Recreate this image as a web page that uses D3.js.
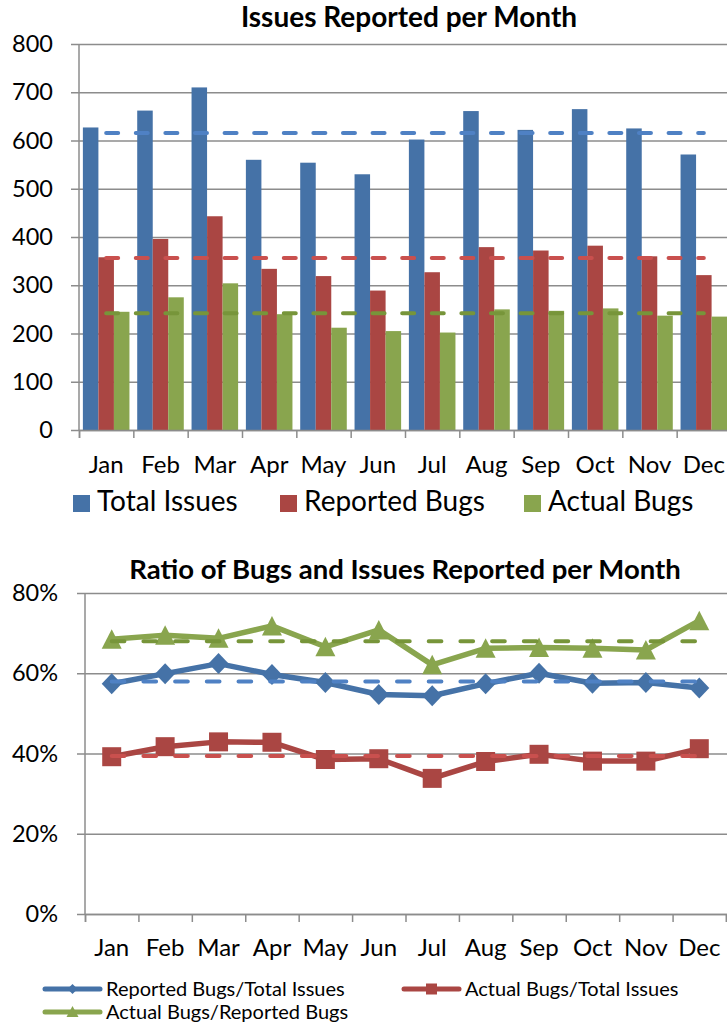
<!DOCTYPE html>
<html>
<head>
<meta charset="utf-8">
<script src="https://cdn.jsdelivr.net/npm/d3@7"></script>
<style>
body { margin: 0; background: #fff; }
text { font-family: Lato, sans-serif; fill: #000; }
</style>
</head>
<body>
<script>
// data
var months = ['Jan','Feb','Mar','Apr','May','Jun','Jul','Aug','Sep','Oct','Nov','Dec'];
var totalIssues  = [627, 662, 710, 560, 554, 530, 602, 661, 622, 665, 625, 571];
var reportedBugs = [358, 396, 443, 334, 319, 289, 327, 379, 372, 382, 360, 321];
var actualBugs   = [245, 275, 304, 240, 212, 205, 202, 250, 247, 252, 237, 235];

var reportedPerTotal  = [57.4, 59.9, 62.4, 59.7, 57.7, 54.7, 54.4, 57.4, 60.0, 57.5, 57.7, 56.3];
var actualPerTotal    = [39.2, 41.7, 42.9, 42.8, 38.5, 38.7, 33.8, 38.0, 39.8, 38.1, 38.1, 41.2];
var actualPerReported = [68.5, 69.5, 68.7, 71.8, 66.6, 70.8, 62.1, 66.2, 66.4, 66.2, 65.8, 73.1];

var countTicks = [0, 100, 200, 300, 400, 500, 600, 700, 800];
var ratioTicks = [0, 20, 40, 60, 80];

var barNames = ['Total Issues', 'Reported Bugs', 'Actual Bugs'];
var ratioNames = ['Reported Bugs/Total Issues', 'Actual Bugs/Total Issues', 'Actual Bugs/Reported Bugs'];

var gridColor = '#8c8c8c';

var svg = d3.select('body').append('svg')
    .attr('width', 727)
    .attr('height', 1025);

// =============== top chart: bars ===============
var barColors  = ['#4572A7', '#AA4643', '#89A54E'];
var avgColors  = ['#4F81C4', '#C9504E', '#77953A'];
var barData = [totalIssues, reportedBugs, actualBugs];

var x = d3.scaleBand().domain(months).range([79, 731]);
var xSub = d3.scaleBand().domain(barNames).range([0, x.bandwidth()]).paddingOuter(0.25);
var xEdge = d3.scaleLinear().domain([0, 12]).range([79, 731]);
var y = d3.scaleLinear().domain([0, 800]).range([430, 44]);

svg.append('text')
    .attr('x', 409).attr('y', 27)
    .attr('text-anchor', 'middle')
    .style('font-size', '28px').style('font-weight', 'bold')
    .text('Issues Reported per Month');

// gridlines
svg.append('g')
    .attr('transform', 'translate(71,0)')
    .call(d3.axisLeft(y).tickValues(countTicks).tickSize(-(731 - 71)).tickFormat(''))
    .call(function(g){
        g.select('.domain').remove();
        g.selectAll('line').attr('stroke', gridColor).attr('stroke-width', 1.5);
    });

// y labels
svg.append('g')
    .attr('transform', 'translate(79,0)')
    .call(d3.axisLeft(y).tickValues(countTicks).tickSize(0).tickPadding(26))
    .call(function(g){
        g.select('.domain').remove();
        g.selectAll('text').style('font-size', '23.5px').attr('fill', '#000');
    });

// bars
barNames.forEach(function(name, i){
    svg.append('g').selectAll('rect')
        .data(barData[i])
        .enter().append('rect')
        .attr('x', function(d, j){ return x(months[j]) + xSub(name); })
        .attr('y', function(d){ return y(d); })
        .attr('width', xSub.bandwidth())
        .attr('height', function(d){ return y(0) - y(d); })
        .attr('fill', barColors[i]);
});

// y axis line
svg.append('line')
    .attr('x1', 79).attr('x2', 79)
    .attr('y1', y(800)).attr('y2', y(0))
    .attr('stroke', gridColor).attr('stroke-width', 1.5);

// x axis ticks at band edges
svg.append('g')
    .attr('transform', 'translate(0,' + y(0) + ')')
    .call(d3.axisBottom(xEdge).ticks(12).tickSize(8).tickFormat(''))
    .call(function(g){
        g.select('.domain').attr('stroke', gridColor).attr('stroke-width', 1.5);
        g.selectAll('line').attr('stroke', gridColor).attr('stroke-width', 1.5);
    });

// x labels
svg.append('g')
    .attr('transform', 'translate(0,' + y(0) + ')')
    .call(d3.axisBottom(x).tickSize(0))
    .call(function(g){
        g.select('.domain').remove();
        g.selectAll('text').attr('y', 43).attr('dy', 0)
            .style('font-size', '24px').attr('fill', '#000');
    });

// average lines (dashed)
var avgLine = d3.line()
    .x(function(d){ return x(d.m) + x.bandwidth() / 2; })
    .y(function(d){ return y(d.v); });

barData.forEach(function(series, i){
    var avg = d3.mean(series);
    svg.append('path')
        .attr('d', avgLine(months.map(function(m){ return {m: m, v: avg}; })))
        .attr('fill', 'none')
        .attr('stroke', avgColors[i])
        .attr('stroke-width', 4)
        .attr('stroke-linecap', 'round')
        .attr('stroke-dasharray', '12,17.6');
});

// legend
var legendX = [73, 280, 524];
barNames.forEach(function(name, i){
    svg.append('rect')
        .attr('x', legendX[i]).attr('y', 495)
        .attr('width', 17).attr('height', 17)
        .attr('fill', barColors[i]);
    svg.append('text')
        .attr('x', legendX[i] + 24).attr('y', 511)
        .style('font-size', '28px')
        .text(name);
});

// =============== bottom chart: ratios ===============
var lineColors = ['#4572A7', '#AA4643', '#89A54E'];
var dashColors = ['#4F81C4', '#C9504E', '#77953A'];
var ratioData = [reportedPerTotal, actualPerTotal, actualPerReported];
var markerPaths = [
    'M0,-10.5L10,0L0,10.5L-10,0Z',
    'M-9.5,-9.5L9.5,-9.5L9.5,9.5L-9.5,9.5Z',
    'M0,-10L10,9.5L-10,9.5Z'
];
var legendPaths = [
    'M0,-5L5,0L0,5L-5,0Z',
    'M-5.5,-5.5L5.5,-5.5L5.5,5.5L-5.5,5.5Z',
    'M0,-6L6,5L-6,5Z'
];

var x2 = d3.scaleBand().domain(months).range([85, 726]);
var x2Edge = d3.scaleLinear().domain([0, 12]).range([85, 726]);
var y2 = d3.scaleLinear().domain([0, 80]).range([914, 593]);

svg.append('text')
    .attr('x', 405).attr('y', 579)
    .attr('text-anchor', 'middle')
    .style('font-size', '27.5px').style('font-weight', 'bold')
    .text('Ratio of Bugs and Issues Reported per Month');

svg.append('g')
    .attr('transform', 'translate(77,0)')
    .call(d3.axisLeft(y2).tickValues(ratioTicks).tickSize(-(727 - 77)).tickFormat(''))
    .call(function(g){
        g.select('.domain').remove();
        g.selectAll('line').attr('stroke', gridColor).attr('stroke-width', 1.5);
    });

svg.append('g')
    .attr('transform', 'translate(85,0)')
    .call(d3.axisLeft(y2).tickValues(ratioTicks).tickSize(0).tickPadding(27)
        .tickFormat(function(d){ return d + '%'; }))
    .call(function(g){
        g.select('.domain').remove();
        g.selectAll('text').style('font-size', '23.5px').attr('fill', '#000');
    });

svg.append('line')
    .attr('x1', 85).attr('x2', 85)
    .attr('y1', y2(80)).attr('y2', y2(0))
    .attr('stroke', gridColor).attr('stroke-width', 1.5);

svg.append('g')
    .attr('transform', 'translate(0,' + y2(0) + ')')
    .call(d3.axisBottom(x2Edge).ticks(12).tickSize(8).tickFormat(''))
    .call(function(g){
        g.select('.domain').attr('stroke', gridColor).attr('stroke-width', 1.5);
        g.selectAll('line').attr('stroke', gridColor).attr('stroke-width', 1.5);
    });

svg.append('g')
    .attr('transform', 'translate(0,' + y2(0) + ')')
    .call(d3.axisBottom(x2).tickSize(0))
    .call(function(g){
        g.select('.domain').remove();
        g.selectAll('text').attr('y', 42).attr('dy', 0)
            .style('font-size', '24px').attr('fill', '#000');
    });

var ratioLine = d3.line()
    .x(function(d, j){ return x2(months[j]) + x2.bandwidth() / 2; })
    .y(function(d){ return y2(d); });

ratioData.forEach(function(series, i){
    svg.append('path')
        .attr('d', ratioLine(series))
        .attr('fill', 'none')
        .attr('stroke', lineColors[i])
        .attr('stroke-width', 5.5)
        .attr('stroke-linejoin', 'round');
    svg.append('g').selectAll('path')
        .data(series)
        .enter().append('path')
        .attr('d', markerPaths[i])
        .attr('transform', function(d, j){
            return 'translate(' + (x2(months[j]) + x2.bandwidth() / 2) + ',' + y2(d) + ')';
        })
        .attr('fill', lineColors[i]);
});

ratioData.forEach(function(series, i){
    var avg = d3.mean(series);
    svg.append('path')
        .attr('d', ratioLine(series.map(function(){ return avg; })))
        .attr('fill', 'none')
        .attr('stroke', dashColors[i])
        .attr('stroke-width', 4)
        .attr('stroke-linecap', 'round')
        .attr('stroke-dasharray', '12.7,19');
});

// legend
var lgX = [45, 404, 45];
var lgY = [989, 989, 1012];
ratioNames.forEach(function(name, i){
    svg.append('line')
        .attr('x1', lgX[i]).attr('x2', lgX[i] + 55)
        .attr('y1', lgY[i]).attr('y2', lgY[i])
        .attr('stroke', lineColors[i]).attr('stroke-width', 5)
        .attr('stroke-linecap', 'round');
    svg.append('path')
        .attr('d', legendPaths[i])
        .attr('transform', 'translate(' + (lgX[i] + 27.5) + ',' + lgY[i] + ')')
        .attr('fill', lineColors[i]);
    svg.append('text')
        .attr('x', lgX[i] + 61).attr('y', lgY[i] + 6.5)
        .style('font-size', '20px')
        .text(name);
});
</script>
</body>
</html>
